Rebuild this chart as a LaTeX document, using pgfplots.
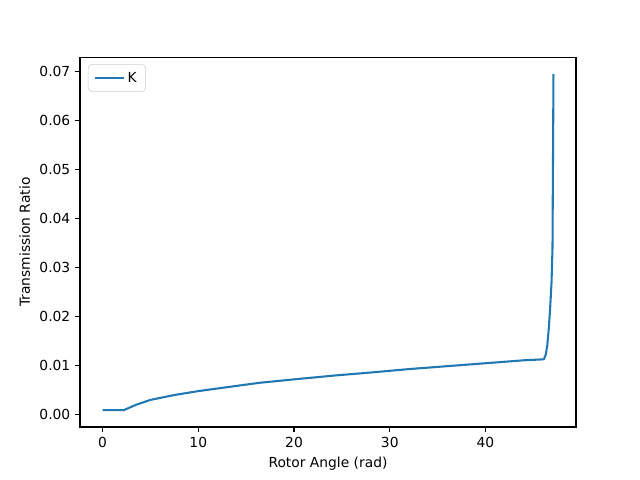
\documentclass[border=0pt]{standalone}
\usepackage{pgfplots}
\pgfplotsset{compat=1.18}
\usepackage{fontspec}
\setmainfont{DejaVu Sans}
\definecolor{tabblue}{HTML}{1F77B4}
\begin{document}
\fontsize{10}{12}\selectfont
\begin{tikzpicture}
\path[use as bounding box] (-0.8in,-0.53in) rectangle (5.6in,4.27in);
\begin{axis}[
  at={(0,0)}, anchor=south west,
  scale only axis, width=4.96in, height=3.696in,
  xmin=-2.355, xmax=49.455, ymin=-0.00264, ymax=0.07294,
  xtick={0,10,20,30,40},
  ytick={0,0.01,0.02,0.03,0.04,0.05,0.06,0.07},
  yticklabel style={/pgf/number format/.cd, fixed, fixed zerofill, precision=2},
  scaled y ticks=false,
  /pgf/number format/assume math mode=true,
  tick align=outside, tick pos=left,
  major tick length=3.5pt,
  tick style={black, line width=0.8pt},
  axis line style={line width=0.8pt},
  ticklabel style={font=\fontsize{10}{12}\selectfont},
  xlabel={Rotor Angle (rad)}, ylabel={Transmission Ratio},
  label style={font=\fontsize{10}{12}\selectfont},
  legend style={at={(0.016,0.982)}, anchor=north west, draw=black!20, rounded corners=3pt, font=\fontsize{10}{12}\selectfont, inner xsep=4.5pt, inner ysep=3.5pt},
  legend image code/.code={\draw[#1] (0cm,0cm) -- (0.72cm,0cm);},
  legend cell align=left,
]
\addplot[tabblue, line width=1.5pt, line join=round] coordinates {
(0,0.0008) (2.2,0.0008) (3.5,0.0019) (5,0.0029) (7.5,0.0039) (10,0.0047) (13,0.0055) (16.4,0.0064) (20,0.0071) (24.3,0.0079) (28,0.0085) (32,0.0092) (36,0.0098) (40,0.0104) (44,0.0110) (46.1,0.0112) (46.3,0.0122) (46.45,0.0140) (46.6,0.0172) (46.75,0.0215) (46.9,0.0270) (47.0,0.0340) (47.03,0.0450) (47.07,0.0580) (47.1,0.0695)
};
\addlegendentry{K}
\end{axis}
\end{tikzpicture}
\end{document}
